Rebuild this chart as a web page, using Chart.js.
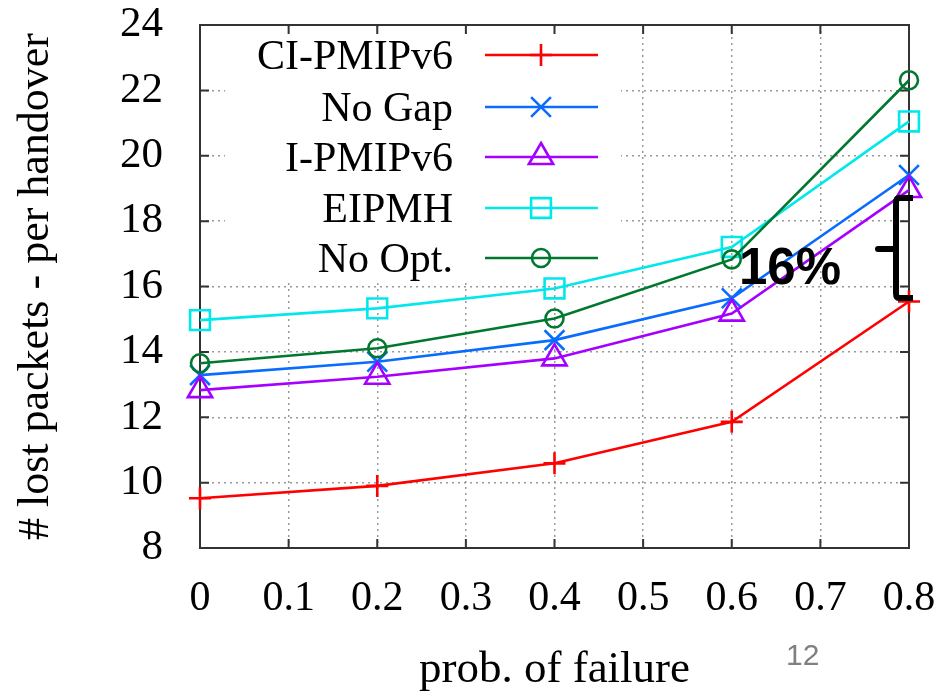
<!DOCTYPE html>
<html><head><meta charset="utf-8">
<script src="https://cdn.jsdelivr.net/npm/chart.js@4.4.0/dist/chart.umd.min.js"></script>
<style>html,body{margin:0;padding:0;background:#fff;}#wrap{width:946px;height:699px;}</style>
</head><body><div id="wrap"><canvas id="c" width="946" height="699"></canvas></div>
<script>
const probFailure = [0, 0.2, 0.4, 0.6, 0.8];
const seriesNames = ['CI-PMIPv6', 'No Gap', 'I-PMIPv6', 'EIPMH', 'No Opt.'];
const ciPmipv6 = [9.52, 9.90, 10.59, 11.86, 15.54];
const noGap    = [13.29, 13.70, 14.36, 15.64, 19.41];
const iPmipv6  = [12.83, 13.24, 13.80, 15.17, 18.95];
const eipmh    = [14.97, 15.33, 15.94, 17.21, 21.05];
const noOpt    = [13.65, 14.11, 15.02, 16.83, 22.31];
const xTickLabels = ['0', '0.1', '0.2', '0.3', '0.4', '0.5', '0.6', '0.7', '0.8'];
const yTickLabels = ['8', '10', '12', '14', '16', '18', '20', '22', '24'];
const xAxisTitle = 'prob. of failure';
const yAxisTitle = '# lost packets - per handover';
const annotationText = '16%';
const pageNumber = '12';

const seriesValues = [ciPmipv6, noGap, iPmipv6, eipmh, noOpt];
const colors = ['#ff0000', '#0a6cff', '#a500ff', '#00e8ec', '#00782f'];
const styles = ['cross', 'crossRot', 'triangle', 'rect', 'circle'];
const radii = [11, 14, 14, 14, 9];

const datasets = seriesValues.map((vals, i) => ({
  label: seriesNames[i],
  data: vals.map((v, j) => ({x: probFailure[j], y: v})),
  borderColor: colors[i],
  backgroundColor: colors[i],
  borderWidth: 2.6,
  pointStyle: styles[i],
  pointRadius: radii[i],
  pointHoverRadius: radii[i],
  pointBorderColor: colors[i],
  pointBackgroundColor: 'rgba(0,0,0,0)',
  pointBorderWidth: 2.6,
  tension: 0,
  clip: false,
  order: 5 - i
}));

const serif = "'Liberation Serif', 'Times New Roman', serif";

const zeroPad = s => { s.paddingTop = 0; s.paddingBottom = 0; s.paddingLeft = 0; s.paddingRight = 0; };

const decor = {
  id: 'decor',
  beforeDatasetsDraw(chart) {
    const ctx = chart.ctx, a = chart.chartArea;
    const xs = chart.scales.x, ys = chart.scales.y;
    ctx.save();
    // opaque key box
    ctx.fillStyle = '#ffffff';
    ctx.fillRect(225, a.top + 2, 396, 253);
    // inward ticks
    ctx.strokeStyle = '#333';
    ctx.lineWidth = 2;
    const tl = 9;
    xs.ticks.forEach(t => {
      const px = xs.getPixelForValue(t.value);
      ctx.beginPath();
      ctx.moveTo(px, a.bottom); ctx.lineTo(px, a.bottom - tl);
      ctx.moveTo(px, a.top); ctx.lineTo(px, a.top + tl);
      ctx.stroke();
    });
    ys.ticks.forEach(t => {
      const py = ys.getPixelForValue(t.value);
      ctx.beginPath();
      ctx.moveTo(a.left, py); ctx.lineTo(a.left + tl, py);
      ctx.moveTo(a.right, py); ctx.lineTo(a.right - tl, py);
      ctx.stroke();
    });
    // frame
    ctx.strokeRect(a.left, a.top, a.right - a.left, a.bottom - a.top);
    ctx.restore();
  },
  afterDraw(chart) {
    const ctx = chart.ctx;
    ctx.save();
    // legend
    const rowY = [55, 107, 157, 208, 258];
    ctx.font = "42px " + serif;
    ctx.textAlign = 'right';
    ctx.textBaseline = 'alphabetic';
    chart.data.datasets.forEach((ds, i) => {
      const y = rowY[i];
      ctx.fillStyle = '#000';
      ctx.fillText(ds.label, 453, y + 14);
      ctx.strokeStyle = ds.borderColor;
      ctx.lineWidth = ds.borderWidth;
      ctx.beginPath(); ctx.moveTo(485, y); ctx.lineTo(598, y); ctx.stroke();
      ctx.fillStyle = 'rgba(0,0,0,0)';
      ctx.lineWidth = ds.pointBorderWidth;
      Chart.helpers.drawPoint(ctx, {
        pointStyle: ds.pointStyle, radius: ds.pointRadius, rotation: 0,
        borderWidth: ds.pointBorderWidth
      }, 541, y);
    });
    // annotation
    ctx.textAlign = 'left';
    ctx.fillStyle = '#000';
    ctx.font = "bold 51px 'Liberation Sans', Arial, sans-serif";
    ctx.fillText(annotationText, 739, 284);
    // bracket
    ctx.strokeStyle = '#000';
    ctx.lineWidth = 6;
    ctx.lineCap = 'butt';
    ctx.lineJoin = 'round';
    ctx.beginPath();
    ctx.moveTo(913, 198);
    ctx.lineTo(899, 198);
    ctx.quadraticCurveTo(896, 198, 896, 203);
    ctx.lineTo(896, 293);
    ctx.quadraticCurveTo(896, 298, 899, 298);
    ctx.lineTo(913, 298);
    ctx.stroke();
    ctx.lineCap = 'round';
    ctx.beginPath();
    ctx.moveTo(878, 249);
    ctx.lineTo(894, 249);
    ctx.stroke();
    // page number
    ctx.fillStyle = '#808080';
    ctx.font = "30px 'Liberation Sans', Arial, sans-serif";
    ctx.fillText(pageNumber, 786, 665);
    ctx.restore();
  }
};

new Chart(document.getElementById('c'), {
  type: 'line',
  data: {datasets},
  options: {
    responsive: false,
    animation: false,
    devicePixelRatio: 1,
    layout: {padding: {left: 0, right: 37, top: 25, bottom: 0}},
    plugins: {legend: {display: false}, tooltip: {enabled: false}},
    scales: {
      x: {
        type: 'linear', min: 0, max: 0.8,
        afterFit: s => { s.height = 151; zeroPad(s); },
        ticks: {
          stepSize: 0.1, padding: 26, color: '#000', maxRotation: 0, autoSkip: false,
          font: {family: serif, size: 42},
          callback: v => xTickLabels.find(l => Math.abs(Number(l) - v) < 1e-9) ?? ''
        },
        grid: {color: '#999999', lineWidth: 1.5, drawTicks: false},
        border: {display: false, dash: [2, 4]},
        title: {display: true, text: xAxisTitle, color: '#000',
          font: {family: serif, size: 45}, padding: {top: 0, bottom: 2}}
      },
      y: {
        type: 'linear', min: 8, max: 24,
        afterFit: s => { s.width = 200; zeroPad(s); },
        ticks: {
          stepSize: 2, padding: 37, color: '#000', autoSkip: false,
          font: {family: serif, size: 43},
          callback: v => yTickLabels.find(l => Number(l) === v) ?? ''
        },
        grid: {color: '#999999', lineWidth: 1.5, drawTicks: false},
        border: {display: false, dash: [2, 4]},
        title: {display: true, text: yAxisTitle, color: '#000',
          font: {family: serif, size: 44}, padding: {top: 10, bottom: 0}}
      }
    }
  },
  plugins: [decor]
});
</script>
</body></html>
